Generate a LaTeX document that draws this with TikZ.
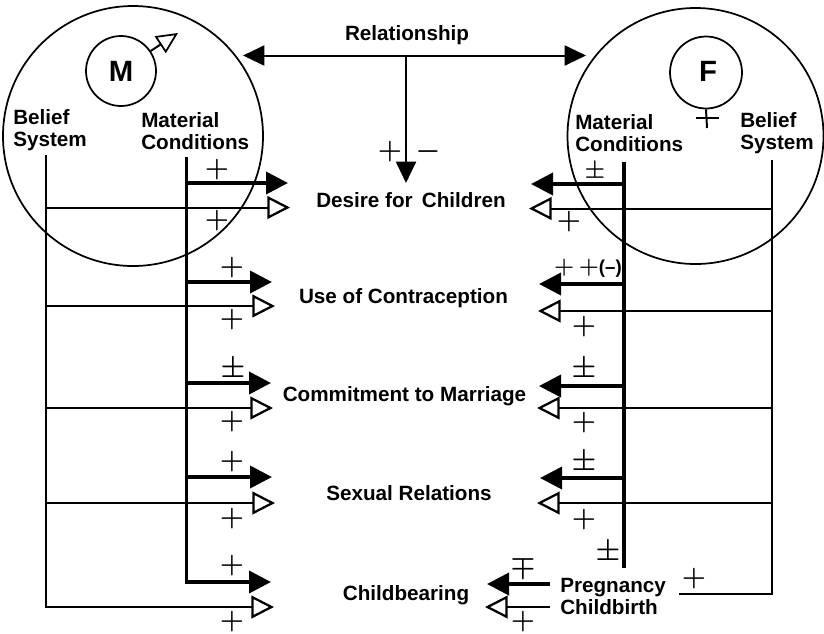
\documentclass[tikz,border=0pt]{standalone}
\usepackage{fontspec}
\setmainfont{Liberation Sans}
\usetikzlibrary{arrows.meta}
\tikzset{
  label/.style  = { inner sep=0pt, font=\fontsize{15.5}{16.5}\selectfont\bfseries },
  stack/.style  = { label, align=left, anchor=west },
  sign/.style   = { inner sep=0pt, font=\huge\boldmath },
  ring/.style   = { circle, draw=black, line width=1.3pt, inner sep=0pt },
}
\tikzset{
  solid head/.style = { -{Triangle[length=16.5pt,width=16.5pt]} },
  open head/.style  = { -{Triangle[open,length=17pt,width=17pt,line width=1.7pt]} },
  heavy/.style      = { line width=2.8pt },
  light/.style      = { line width=1.5pt },
}
\begin{document}
\begin{tikzpicture}[x=.75pt,y=-.75pt,black,line join=miter]
  \useasboundingbox (0,0) rectangle (824,633);

  % people
  \node (male)    [ring,minimum size=195pt] at (133,136) {};
  \node (female)  [ring,minimum size=192pt] at (695.5,136) {};
  \node (msym)    [ring,minimum size=52.5pt] at (121,71) {};
  \node (fsym)    [ring,minimum size=54pt]   at (706,72.5) {};
  \node (mname)   [label,font=\fontsize{22}{22}\selectfont\bfseries] at (msym)  {M};
  \node (fname)   [label,font=\fontsize{22}{22}\selectfont\bfseries] at (708,71) {F};
  \coordinate (mtip)  at (178,33);
  \coordinate (fstem) at (707,128);
  \coordinate (fbarl) at (696,118);
  \coordinate (fbarr) at (719,118);
  \draw [light,{}-{Triangle[open,length=16pt,width=15pt,line width=1.3pt]}] (msym.34) -- (mtip);
  \draw [light] (fsym.south) -- (fstem);
  \draw [light] (fbarl) -- (fbarr);

  % relationship
  \node (rel) [label] at (407,35) {Relationship};
  \coordinate (rell) at (243,55.5);
  \coordinate (relr) at (586,55.5);
  \coordinate (relm) at (406,55.5);
  \coordinate (reld) at (406,183);
  \draw [light,{Triangle[length=16pt,width=15pt]}-{Triangle[length=16pt,width=15pt]}] (rell) -- (relr);
  \draw [light,-{Triangle[length=16pt,width=15pt]}] (relm) -- (reld);
  \node (relp) [sign] at (390,152) {$+$};
  \node (relm) [sign] at (428,152) {$-$};

  % column heads
  \node (mbelief) [stack] at (13,130)  {Belief\\System};
  \node (mmat)    [stack] at (141,131) {Material\\Conditions};
  \node (fmat)    [stack] at (575,133) {Material\\Conditions};
  \node (fbelief) [stack] at (740,133) {Belief\\System};

  % outcomes
  \node (desire)  [label] at (411,200) {Desire for\, Children};
  \node (contra)  [label] at (403.5,298) {Use of Contraception};
  \node (commit)  [label] at (404.5,396) {Commitment to Marriage};
  \node (sexual)  [label] at (409,493) {Sexual Relations};
  \node (child)   [label] at (406,595) {Childbearing};
  \node (preg)    [stack] at (560,596) {Pregnancy\\Childbirth};

  % male side
  \coordinate (mbtop)  at (46,155);
  \coordinate (mmtop)  at (186.5,157);
  \coordinate (mm1) at (186.5,183);
  \coordinate (mm2) at (186.5,282);
  \coordinate (mm3) at (186.5,383);
  \coordinate (mm4) at (186.5,477);
  \coordinate (mb1) at (46,207.5);
  \coordinate (mb2) at (46,306);
  \coordinate (mb3) at (46,408);
  \coordinate (mb4) at (46,503);
  \coordinate (ms1) at (288,183);
  \coordinate (ms2) at (272,282);
  \coordinate (ms3) at (271,383);
  \coordinate (ms4) at (272,477);
  \coordinate (ms5) at (271,582);
  \coordinate (mo1) at (290,207.5);
  \coordinate (mo2) at (275,306);
  \coordinate (mo3) at (273,408);
  \coordinate (mo4) at (275,503);
  \coordinate (mo5) at (274,607);
  \draw [heavy,solid head] (mmtop) |- (ms5);
  \draw [light,open head]  (mbtop) |- (mo5);
  \draw [heavy,solid head] (mm1) -- (ms1);
  \draw [heavy,solid head] (mm2) -- (ms2);
  \draw [heavy,solid head] (mm3) -- (ms3);
  \draw [heavy,solid head] (mm4) -- (ms4);
  \draw [light,open head]  (mb1) -- (mo1);
  \draw [light,open head]  (mb2) -- (mo2);
  \draw [light,open head]  (mb3) -- (mo3);
  \draw [light,open head]  (mb4) -- (mo4);

  % female side
  \coordinate (fbtop)  at (772,160);
  \coordinate (fbend)  at (679,594);
  \coordinate (fmtop)  at (624,162);
  \coordinate (fmend)  at (624,568);
  \coordinate (fm1) at (624,184);
  \coordinate (fm2) at (624,284);
  \coordinate (fm3) at (624,386);
  \coordinate (fm4) at (624,478);
  \coordinate (fb1) at (772,208.5);
  \coordinate (fb2) at (772,311);
  \coordinate (fb3) at (772,408);
  \coordinate (fb4) at (772,503);
  \coordinate (fs1) at (531,184);
  \coordinate (fs2) at (539,284);
  \coordinate (fs3) at (539,386);
  \coordinate (fs4) at (540,478);
  \coordinate (fo1) at (529,208.5);
  \coordinate (fo2) at (538,311);
  \coordinate (fo3) at (537,408);
  \coordinate (fo4) at (537,503);
  \coordinate (ps)  at (550,584);
  \coordinate (po)  at (550,607);
  \coordinate (fs5) at (487,584);
  \coordinate (fo5) at (485,607);
  \draw [heavy] (fmtop) -- (fmend);
  \draw [light] (fbtop) |- (fbend);
  \draw [heavy,solid head] (fm1) -- (fs1);
  \draw [heavy,solid head] (fm2) -- (fs2);
  \draw [heavy,solid head] (fm3) -- (fs3);
  \draw [heavy,solid head] (fm4) -- (fs4);
  \draw [heavy,solid head] (ps)  -- (fs5);
  \draw [light,open head]  (fb1) -- (fo1);
  \draw [light,open head]  (fb2) -- (fo2);
  \draw [light,open head]  (fb3) -- (fo3);
  \draw [light,open head]  (fb4) -- (fo4);
  \draw [light,open head]  (po)  -- (fo5);

  % signs, male
  \node (mp1) [sign] at (217,170) {$+$};
  \node (mq1) [sign] at (217,221) {$+$};
  \node (mp2) [sign] at (232,268) {$+$};
  \node (mq2) [sign] at (232,320) {$+$};
  \node (mp3) [sign] at (233,370) {$\pm$};
  \node (mq3) [sign] at (232,422) {$+$};
  \node (mp4) [sign] at (232,462) {$+$};
  \node (mq4) [sign] at (232,519) {$+$};
  \node (mp5) [sign] at (232,566) {$+$};
  \node (mq5) [sign] at (232,622) {$+$};

  % signs, female
  \node (fp1) [sign,font=\LARGE\boldmath] at (595,172) {$\pm$};
  \node (fq1) [sign] at (569,222) {$+$};
  \node (fp2) [sign,font=\LARGE\boldmath] at (588,268) {$+\,+$\fontsize{14}{14}\selectfont\bfseries(--)};
  \node (fq2) [sign] at (584,327) {$+$};
  \node (fp3) [sign] at (584,370) {$\pm$};
  \node (fq3) [sign] at (584,423) {$+$};
  \node (fp4) [sign] at (584,463) {$\pm$};
  \node (fq4) [sign] at (584,520) {$+$};
  \node (fp5) [sign] at (608,553) {$\pm$};
  \node (fp6) [sign] at (523,567) {$\mp$};
  \node (fp7) [sign] at (694,579) {$+$};
  \node (fq5) [sign] at (523,622) {$+$};
\end{tikzpicture}
\end{document}
